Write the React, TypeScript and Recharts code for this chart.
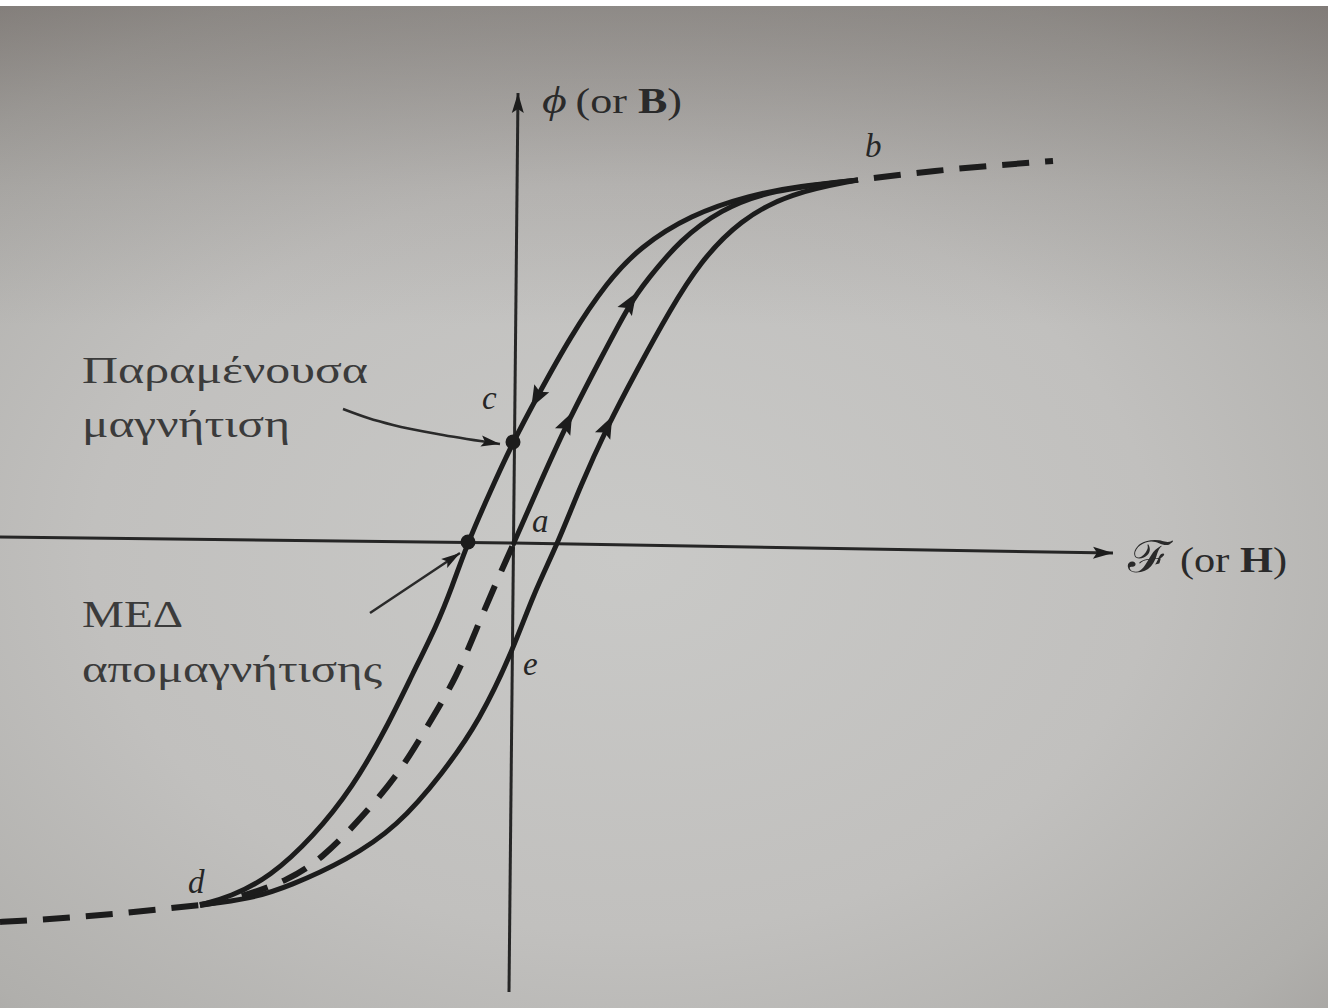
import { ComposedChart, Line, Scatter, XAxis, YAxis } from 'recharts';

type Pt = { x: number; y: number };

// ℱ (H) runs along x, ϕ (B) along y; the axes cross at (0, 0)
const H_RANGE: [number, number] = [-5.13, 8.22];
const B_RANGE: [number, number] = [-4.63, 5.45];
const WIDTH = 1335;
const HEIGHT = 1008;
const PX_H = WIDTH / (H_RANGE[1] - H_RANGE[0]);
const PX_B = HEIGHT / (B_RANGE[1] - B_RANGE[0]);

const INK = '#1c1c1c';
const TEXT = '#3b3b3b';
const SERIF = "'Liberation Serif', 'Times New Roman', 'DejaVu Serif', serif";

// outer loop: branch coming down from b through c and the coercive point to d
const descendingBranch: Pt[] = [
  { x: -3.13, y: -3.6 }, { x: -2.83, y: -3.52 }, { x: -2.43, y: -3.32 }, { x: -2.0, y: -2.92 },
  { x: -1.6, y: -2.42 }, { x: -1.26, y: -1.82 }, { x: -1.0, y: -1.28 }, { x: -0.76, y: -0.8 },
  { x: -0.61, y: -0.42 }, { x: -0.45, y: 0.03 }, { x: -0.23, y: 0.53 }, { x: 0, y: 1.03 },
  { x: 0.24, y: 1.48 }, { x: 0.57, y: 2.08 }, { x: 0.94, y: 2.63 }, { x: 1.27, y: 2.98 },
  { x: 1.77, y: 3.3 }, { x: 2.37, y: 3.5 }, { x: 2.87, y: 3.59 }, { x: 3.45, y: 3.65 },
];

// outer loop: branch going up from d through e back to b
const ascendingBranch: Pt[] = [
  { x: -3.13, y: -3.6 }, { x: -2.63, y: -3.54 }, { x: -2.23, y: -3.41 }, { x: -1.66, y: -3.15 },
  { x: -1.16, y: -2.82 }, { x: -0.7, y: -2.28 }, { x: -0.33, y: -1.75 }, { x: 0, y: -1.05 },
  { x: 0.2, y: -0.5 }, { x: 0.45, y: 0.02 }, { x: 0.67, y: 0.58 }, { x: 0.94, y: 1.18 },
  { x: 1.24, y: 1.75 }, { x: 1.57, y: 2.35 }, { x: 1.87, y: 2.83 }, { x: 2.27, y: 3.25 },
  { x: 2.77, y: 3.52 }, { x: 3.45, y: 3.65 },
];

// initial magnetisation from a up to b (solid)
const initialCurve: Pt[] = [
  { x: 0, y: 0 }, { x: 0.24, y: 0.55 }, { x: 0.54, y: 1.22 }, { x: 0.87, y: 1.85 },
  { x: 1.17, y: 2.42 }, { x: 1.34, y: 2.65 }, { x: 1.67, y: 3.05 }, { x: 2.07, y: 3.35 },
  { x: 2.57, y: 3.55 }, { x: 3.45, y: 3.65 },
];

// its mirror from d up to a (dashed)
const initialLower: Pt[] = [
  { x: -3.13, y: -3.6 }, { x: -2.78, y: -3.54 }, { x: -2.23, y: -3.35 }, { x: -1.9, y: -3.12 },
  { x: -1.6, y: -2.82 }, { x: -1.16, y: -2.32 }, { x: -0.86, y: -1.82 }, { x: -0.56, y: -1.32 },
  { x: -0.33, y: -0.75 }, { x: -0.1, y: -0.22 }, { x: 0, y: 0 },
];

// saturation tails beyond b and d
const tailRight: Pt[] = [{ x: 3.45, y: 3.65 }, { x: 4.22, y: 3.74 }, { x: 5.4, y: 3.84 }];
const tailLeft: Pt[] = [{ x: -5.13, y: -3.77 }, { x: -4.36, y: -3.72 }, { x: -3.13, y: -3.6 }];

// axis lines
const hAxisLine: Pt[] = [{ x: -5.13, y: 0.08 }, { x: 0, y: 0.02 }, { x: 6.0, y: -0.08 }];
const bAxisLine: Pt[] = [{ x: 0.05, y: 4.52 }, { x: -0.04, y: -4.47 }];

// leaders from the captions
const remanenceLeader: Pt[] = [
  { x: -1.7, y: 1.36 }, { x: -1.45, y: 1.27 }, { x: -1.2, y: 1.2 }, { x: -0.7, y: 1.1 }, { x: -0.13, y: 1.01 },
];
const coerciveLeader: Pt[] = [{ x: -1.43, y: -0.68 }, { x: -0.53, y: -0.08 }];

// labelled points
const namedPoints = [
  { x: 0, y: 0, name: 'a' },
  { x: 3.45, y: 3.65, name: 'b' },
  { x: 0, y: 1.03, name: 'c' },
  { x: -3.13, y: -3.6, name: 'd' },
  { x: 0, y: -1.05, name: 'e' },
];
// residual flux and coercive force
const markedPoints = [{ x: 0, y: 1.03 }, { x: -0.45, y: 0.03 }];

// direction arrows riding on the curves
const flowMarks = [
  { x: 0.24, y: 1.48, branch: 'descending' },
  { x: 0.54, y: 1.22, branch: 'initial' },
  { x: 1.17, y: 2.42, branch: 'initial' },
  { x: 0.94, y: 1.18, branch: 'ascending' },
];

const captions = [
  { x: -4.31, y: 1.62, text: 'Παραμένουσα', span: 286 },
  { x: -4.31, y: 1.08, text: 'μαγνήτιση', span: 208 },
  { x: -4.31, y: -0.82, text: 'ΜΕΔ', span: 101 },
  { x: -4.31, y: -1.37, text: 'απομαγνήτισης', span: 300 },
];

const axisTitles = [
  { x: 0.29, y: 4.32, symbol: 'ϕ', bold: 'B', span: 140 },
  { x: 6.15, y: -0.27, symbol: 'ℱ', bold: 'H', span: 159 },
];

const LETTER_OFFSET: Record<string, [number, number]> = {
  a: [19, -13],
  b: [7, -23],
  c: [-31, -33],
  d: [-12, -12],
  e: [10, 25],
};

const angleOf = (from: Pt, to: Pt) =>
  (Math.atan2(-(to.y - from.y) * PX_B, (to.x - from.x) * PX_H) * 180) / Math.PI;

const slopeAngle = (path: Pt[], x: number) => {
  for (let i = 0; i < path.length - 1; i++) {
    if (path[i].x <= x && x < path[i + 1].x) {
      const before = i > 0 && path[i].x === x ? angleOf(path[i - 1], path[i]) : null;
      const after = angleOf(path[i], path[i + 1]);
      return before === null ? after : (before + after) / 2;
    }
  }
  return angleOf(path[path.length - 2], path[path.length - 1]);
};

const branchPaths: Record<string, { path: Pt[]; reverse: boolean }> = {
  descending: { path: descendingBranch, reverse: true },
  ascending: { path: ascendingBranch, reverse: false },
  initial: { path: initialCurve, reverse: false },
};

const flowHeads = flowMarks.map((m) => {
  const { path, reverse } = branchPaths[m.branch];
  return { x: m.x, y: m.y, angle: slopeAngle(path, m.x) + (reverse ? 180 : 0) };
});

const tipOf = (path: Pt[], atStart = false) => {
  const n = path.length;
  const [from, to] = atStart ? [path[1], path[0]] : [path[n - 2], path[n - 1]];
  return { x: to.x, y: to.y, angle: angleOf(from, to) };
};

const axisHeads = [tipOf(bAxisLine, true), tipOf(hAxisLine)];
const leaderHeads = [tipOf(remanenceLeader), tipOf(coerciveLeader)];

const FlowHead = ({ cx, cy, payload }: any) => (
  <path
    d="M 12 0 L -10 -8.5 L -6 0 L -10 8.5 Z"
    transform={`translate(${cx},${cy}) rotate(${payload.angle})`}
    fill={INK}
  />
);

const makeTip = (len: number, half: number) => ({ cx, cy, payload }: any) => (
  <path
    d={`M 0 0 L ${-len} ${-half} L ${-len * 0.8} 0 L ${-len} ${half} Z`}
    transform={`translate(${cx},${cy}) rotate(${payload.angle})`}
    fill={INK}
  />
);
const AxisTip = makeTip(20, 6);
const LeaderTip = makeTip(19, 5.5);

const Dot = ({ cx, cy }: any) => <circle cx={cx} cy={cy} r={7.5} fill={INK} />;

const Letter = ({ cx, cy, payload }: any) => {
  const [dx, dy] = LETTER_OFFSET[payload.name];
  return (
    <text x={cx + dx} y={cy + dy} fontFamily={SERIF} fontStyle="italic" fontSize={33} fill="#262626">
      {payload.name}
    </text>
  );
};

const Caption = ({ cx, cy, payload }: any) => (
  <text
    x={cx}
    y={cy}
    fontFamily={SERIF}
    fontSize={38}
    fill={TEXT}
    textLength={payload.span}
    lengthAdjust="spacingAndGlyphs"
  >
    {payload.text}
  </text>
);

const AxisTitle = ({ cx, cy, payload }: any) => {
  const script = payload.symbol === 'ℱ';
  return (
    <text
      x={cx}
      y={cy}
      fontFamily={SERIF}
      fontSize={35}
      fill="#2a2a2a"
      textLength={payload.span}
      lengthAdjust="spacingAndGlyphs"
    >
      <tspan fontStyle={script ? 'normal' : 'italic'} fontSize={script ? 44 : 38}>
        {payload.symbol}
      </tspan>
      <tspan>{'\u2009(or\u00a0'}</tspan>
      <tspan fontWeight="bold">{payload.bold}</tspan>
      <tspan>)</tspan>
    </text>
  );
};

const solid = { stroke: INK, strokeWidth: 5, dot: false, activeDot: false, isAnimationActive: false } as const;
const dashed = { ...solid, strokeWidth: 6, strokeDasharray: '27 16' };

export default function App() {
  return (
    <div style={{ position: 'absolute', left: 0, top: 0, width: WIDTH, height: HEIGHT, background: '#ffffff' }}>
      <div
        style={{
          position: 'absolute',
          left: 0,
          top: 6,
          width: 1328,
          height: HEIGHT - 6,
          background:
            'linear-gradient(to bottom, rgba(60,50,45,0.32) 0%, rgba(60,50,45,0.1) 18%, rgba(60,50,45,0) 32%), radial-gradient(ellipse 80% 75% at 47% 55%, #c9c9c7 0%, #c1c0be 50%, #b0afac 82%, #a09d9a 100%)',
        }}
      />
      <div style={{ position: 'absolute', left: 0, top: 0 }}>
        <ComposedChart width={WIDTH} height={HEIGHT} margin={{ top: 0, right: 0, bottom: 0, left: 0 }}>
          <XAxis type="number" dataKey="x" domain={H_RANGE} allowDataOverflow hide />
          <YAxis type="number" dataKey="y" domain={B_RANGE} allowDataOverflow hide />

          <Line data={hAxisLine} dataKey="y" type="monotone" {...solid} strokeWidth={3} stroke="#262626" />
          <Line data={bAxisLine} dataKey="y" type="linear" {...solid} strokeWidth={3} stroke="#262626" />

          <Line data={descendingBranch} dataKey="y" type="basis" {...solid} />
          <Line data={ascendingBranch} dataKey="y" type="basis" {...solid} />
          <Line data={initialCurve} dataKey="y" type="basis" {...solid} />
          <Line data={initialLower} dataKey="y" type="basis" {...dashed} />
          <Line data={tailRight} dataKey="y" type="monotone" {...dashed} strokeDashoffset={27} />
          <Line data={tailLeft} dataKey="y" type="monotone" {...dashed} />

          <Line data={remanenceLeader} dataKey="y" type="monotone" {...solid} strokeWidth={2.5} stroke="#2a2a2a" />
          <Line data={coerciveLeader} dataKey="y" type="linear" {...solid} strokeWidth={2.5} stroke="#2a2a2a" />

          <Scatter data={axisHeads} dataKey="y" shape={AxisTip} isAnimationActive={false} />
          <Scatter data={leaderHeads} dataKey="y" shape={LeaderTip} isAnimationActive={false} />
          <Scatter data={flowHeads} dataKey="y" shape={FlowHead} isAnimationActive={false} />
          <Scatter data={markedPoints} dataKey="y" shape={Dot} isAnimationActive={false} />

          <Scatter data={namedPoints} dataKey="y" shape={Letter} isAnimationActive={false} />
          <Scatter data={captions} dataKey="y" shape={Caption} isAnimationActive={false} />
          <Scatter data={axisTitles} dataKey="y" shape={AxisTitle} isAnimationActive={false} />
        </ComposedChart>
      </div>
    </div>
  );
}
